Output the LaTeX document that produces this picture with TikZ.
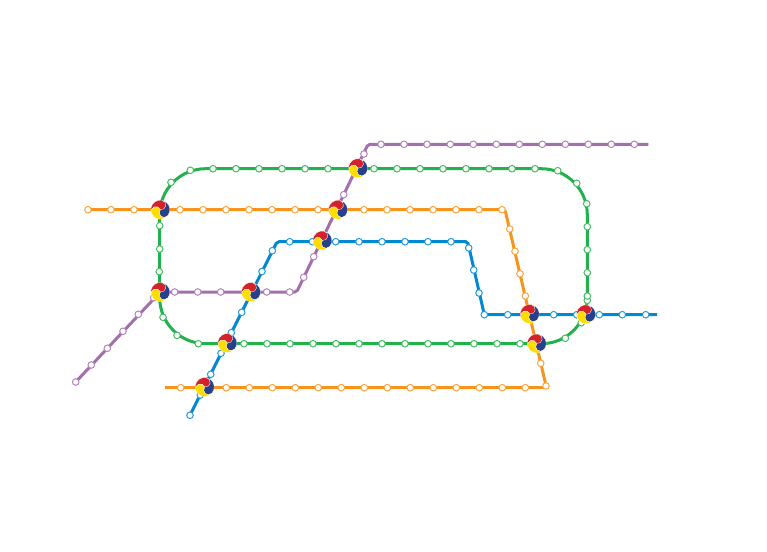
\documentclass[tikz,border=0pt]{standalone}
\usepackage{xcolor}
\definecolor{cOrange}{HTML}{F7941D}
\definecolor{cGreen}{HTML}{22B14C}
\definecolor{cBlue}{HTML}{0088D1}
\definecolor{cPurple}{HTML}{A36FAD}
\definecolor{cRed}{HTML}{D2232A}
\definecolor{cNavy}{HTML}{27408B}
\definecolor{cYellow}{HTML}{FFDD00}
\usetikzlibrary{backgrounds}
\tikzset{
  node-stop/.style={circle,draw,fill=white,line width=1pt,minimum size=6.6pt,inner sep=0pt},
  node-orange/.style={node-stop,draw=cOrange!85!white},
  node-green/.style={node-stop,draw=cGreen!85!white},
  node-blue/.style={node-stop,draw=cBlue!85!white},
  node-purple/.style={node-stop,draw=cPurple!85!white},
  node-hub/.style={circle,minimum size=18pt,inner sep=0pt},
  % one swirled lobe of an interchange disc
  lobe/.style={fill=#1,draw=white,line width=0.2pt},
  line-orange/.style={draw=cOrange,line width=3pt,rounded corners=2pt},
  line-green/.style={draw=cGreen,line width=3pt,rounded corners=46pt},
  line-blue/.style={draw=cBlue,line width=3pt,rounded corners=2pt},
  line-purple/.style={draw=cPurple,line width=3pt,rounded corners=2pt},
}
\begin{document}
\begin{tikzpicture}[x=1pt,y=-1pt]
  \useasboundingbox (0,0) rectangle (767,551);
  % stops
  \foreach \x/\y [count=\i] in {88/209.7,111/209.7,134/209.7,180/209.7,203/209.7,226/209.7,249/209.7,272/209.7,295/209.7,318/209.7,364/209.7,387/209.7,410/209.7,433/209.7,456/209.7,479/209.7,502/209.7,509.7/229,515/251.3,520/273.7,525.3/296,540.7/363.3,546/386,525.3/387.7,502.3/387.7,479.3/387.7,456.3/387.7,433.3/387.7,410.3/387.7,387.3/387.7,364.3/387.7,341.3/387.7,318.3/387.7,295.3/387.7,272.3/387.7,249.3/387.7,226.3/387.7,180.7/387.7}
    \node[node-orange] (o\i) at (\x,\y) {};
  \foreach \x/\y [count=\i] in {159.7/225.7,159.7/249,159.3/271.7,163/317.3,177/335.3,198.3/343.7,244/343.7,267/343.7,290/343.7,313/343.7,336/343.7,359/343.7,382/343.7,405/343.7,428/343.7,451/343.7,474/343.7,497/343.7,520/343.7,565.3/338.3,581.3/322.7,587.3/300.3,587.3/296,587.3/272.7,587.3/249.7,587.3/226.7,586.7/203.7,576.7/183.3,557.7/170.7,535/168.7,512/168.7,489/168.7,466/168.7,443/168.7,420/168.7,397/168.7,374/168.7,328/168.7,305/168.7,282/168.7,259/168.7,236/168.7,213/168.7,190.3/170.3,171/182.3}
    \node[node-green] (g\i) at (\x,\y) {};
  \foreach \x/\y [count=\i] in {190/415.3,200.3/395,210.7/374.3,221/353.3,231.3/332.7,241.7/312.3,262/271.5,272.3/250.7,289.7/241.7,312.5/241.7,335.7/241.7,359/241.7,382/241.7,405/241.7,428/241.7,451/241.7,468.7/248,473.7/270,479/293,484.3/314.7,507.7/314.7,553.7/314.7,576.7/314.7,599.3/314.7,622.3/314.7,645.7/314.7}
    \node[node-blue] (b\i) at (\x,\y) {};
  \foreach \x/\y [count=\i] in {75.7/382,91.3/365,107.3/348.3,123/331.3,138.3/314.3,153.7/297.7,174.7/292,197.7/292,220.7/292,266.7/292,289.7/292,303.7/277.3,313.7/256.7,343.7/194.7,364/154,381/144.3,404/144.3,427/144.3,450.3/144.3,473.3/144.3,496.3/144.3,519.3/144.3,542.3/144.3,565.3/144.3,588.3/144.3,611.3/144.3,634.3/144.3}
    \node[node-purple] (p\i) at (\x,\y) {};
  % interchanges
  \node[node-hub] (hubA) at (160.3,209.7) {};
  \node[node-hub] (hubB) at (358,168.2) {};
  \node[node-hub] (hubC) at (338,209.7) {};
  \node[node-hub] (hubD) at (322.3,240.5) {};
  \node[node-hub] (hubE) at (160.3,292) {};
  \node[node-hub] (hubF) at (251,292) {};
  \node[node-hub] (hubG) at (227.3,343) {};
  \node[node-hub] (hubH) at (204.7,387) {};
  \node[node-hub] (hubI) at (529.7,314) {};
  \node[node-hub] (hubJ) at (536.7,343.5) {};
  \node[node-hub] (hubK) at (586,314.3) {};
  \foreach \h in {hubA,hubB,hubC,hubD,hubE,hubF,hubG,hubH,hubI,hubJ,hubK}
    \foreach \ang/\col in {25/cRed,-95/cNavy,145/cYellow}
      \path[lobe=\col,x=1pt,y=1pt,shift={(\h.center)},rotate=\ang]
        (0,0) arc[start angle=-125,end angle=55,radius=4.75pt]
        arc[start angle=55,end angle=175,radius=9.5pt]
        arc[start angle=175,end angle=-5,radius=4.75pt] -- cycle;
  % free ends and bends
  \coordinate (oBendA) at (505,209.7);
  \coordinate (oBendB) at (546.5,387.7);
  \coordinate (oEnd) at (165,387.7);
  \coordinate (gNW) at (159.7,168.7);
  \coordinate (gNE) at (587.3,168.7);
  \coordinate (gSE) at (587.3,343.7);
  \coordinate (gSW) at (159.7,343.7);
  \coordinate (bBendA) at (277,241.7);
  \coordinate (bBendB) at (467.7,241.7);
  \coordinate (bEnd) at (657,314.7);
  \coordinate (pBendA) at (296.7,292);
  \coordinate (pBendB) at (368,144.3);
  \coordinate (pEnd) at (648.3,144.3);
  \begin{scope}[on background layer]
    \draw[line-purple] (p1.center) -- (hubE.center) -- (pBendA) -- (pBendB) -- (pEnd);
    \draw[line-green] (gNW) -- (gNE) -- (gSE) -- (gSW) -- cycle;
    \draw[line-orange] (o1.center) -- (oBendA) -- (oBendB) -- (oEnd);
    \draw[line-blue] (b1.center) -- (bBendA) -- (bBendB) -- (b20.center) -- (bEnd);
  \end{scope}
\end{tikzpicture}
\end{document}
